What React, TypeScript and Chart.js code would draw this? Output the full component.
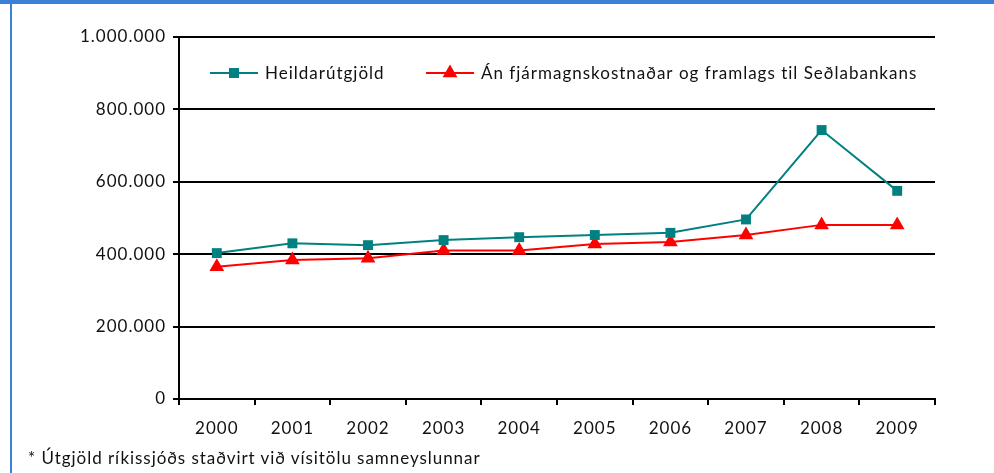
import React, { useEffect, useRef } from "react";
import { Chart, registerables } from "chart.js";

Chart.register(...registerables);

const years = ["2000", "2001", "2002", "2003", "2004", "2005", "2006", "2007", "2008", "2009"];
const heildar = [403000, 430000, 425000, 439000, 447000, 453000, 459000, 496000, 743000, 575000];
const anFjarmagns = [365000, 384000, 389000, 410000, 410000, 428000, 434000, 453000, 481000, 481000];
const seriesNames = ["Heildarútgjöld", "Án fjármagnskostnaðar og framlags til Seðlabankans"];
const footnote = "* Útgjöld ríkissjóðs staðvirt við vísitölu samneyslunnar";

const TEAL = "#008080";
const RED = "#FF0000";
const FONT = "Lato, 'Open Sans', sans-serif";
const SPACING = "1px";

const fmt = (v: number) => String(Math.round(v)).replace(/\B(?=(\d{3})+(?!\d))/g, ".");

const spacingPlugin = {
  id: "letterSpacing",
  beforeDraw(chart: any) {
    (chart.ctx as any).letterSpacing = SPACING;
  },
};

const legendPlugin = {
  id: "insideLegend",
  afterDraw(chart: any) {
    const { ctx, chartArea } = chart;
    const y = chartArea.top + 36;
    const items = [
      { x: chartArea.left + 31, color: TEAL, style: "rect", label: seriesNames[0] },
      { x: chartArea.left + 247, color: RED, style: "triangle", label: seriesNames[1] },
    ];
    ctx.save();
    (ctx as any).letterSpacing = SPACING;
    for (const it of items) {
      ctx.strokeStyle = it.color;
      ctx.lineWidth = 2;
      ctx.beginPath();
      ctx.moveTo(it.x, y);
      ctx.lineTo(it.x + 48, y);
      ctx.stroke();
      ctx.fillStyle = it.color;
      const cx = it.x + 24;
      if (it.style === "rect") {
        ctx.fillRect(cx - 5, y - 5, 10, 10);
      } else {
        ctx.beginPath();
        ctx.moveTo(cx, y - 8.5);
        ctx.lineTo(cx + 7.4, y + 4.3);
        ctx.lineTo(cx - 7.4, y + 4.3);
        ctx.closePath();
        ctx.fill();
      }
      ctx.fillStyle = "#111";
      ctx.font = `17px ${FONT}`;
      ctx.textBaseline = "middle";
      ctx.textAlign = "left";
      ctx.fillText(it.label, it.x + 55, y + 1);
    }
    ctx.restore();
  },
};

export default function App() {
  const ref = useRef<HTMLCanvasElement | null>(null);

  useEffect(() => {
    document.body.style.margin = "0";
    const canvas = ref.current!;
    const chart = new Chart(canvas, {
      type: "line",
      data: {
        labels: years,
        datasets: [
          {
            label: seriesNames[0],
            data: heildar,
            borderColor: TEAL,
            backgroundColor: TEAL,
            borderWidth: 2,
            pointStyle: "rect",
            pointRadius: 7,
            pointBorderWidth: 0,
            tension: 0,
          },
          {
            label: seriesNames[1],
            data: anFjarmagns,
            borderColor: RED,
            backgroundColor: RED,
            borderWidth: 2,
            pointStyle: "triangle",
            pointRadius: 8.5,
            pointBorderWidth: 0,
            tension: 0,
          },
        ],
      },
      options: {
        animation: false,
        responsive: false,
        maintainAspectRatio: false,
        layout: { padding: { left: 0, top: 37, right: 59, bottom: 0 } },
        plugins: { legend: { display: false }, tooltip: { enabled: false }, title: { display: false } },
        scales: {
          x: {
            offset: true,
            afterFit: (s: any) => { s.height = 74; },
            grid: { offset: true, drawOnChartArea: false, color: "#000", lineWidth: 2, tickLength: 6 },
            border: { color: "#000", width: 2 },
            ticks: { color: "#111", font: { family: FONT, size: 17 }, padding: 13, maxRotation: 0, autoSkip: false },
          },
          y: {
            min: 0,
            max: 1000000,
            afterFit: (s: any) => { s.width = 179; },
            ticks: { stepSize: 200000, color: "#111", font: { family: FONT, size: 17 }, padding: 7, callback: (v: any) => fmt(Number(v)) },
            grid: { color: "#000", lineWidth: 2, tickLength: 6 },
            border: { color: "#000", width: 2 },
          },
        },
      },
      plugins: [spacingPlugin, legendPlugin],
    });
    return () => chart.destroy();
  }, []);

  return (
    <div style={{ position: "absolute", left: 0, top: 0, width: 994, height: 473, background: "#fff", overflow: "hidden" }}>
      <div style={{ position: "absolute", left: 0, top: 0, width: 994, height: 4, background: "#3A80D6" }} />
      <div style={{ position: "absolute", left: 10, top: 0, width: 2, height: 473, background: "#3A80D6" }} />
      <canvas ref={ref} width={994} height={473} style={{ position: "absolute", left: 0, top: 0 }} />
      <div style={{ position: "absolute", left: 28, top: 447, fontFamily: FONT, fontSize: 17, letterSpacing: "0.95px", color: "#111", whiteSpace: "nowrap" }}>
        {footnote}
      </div>
    </div>
  );
}
